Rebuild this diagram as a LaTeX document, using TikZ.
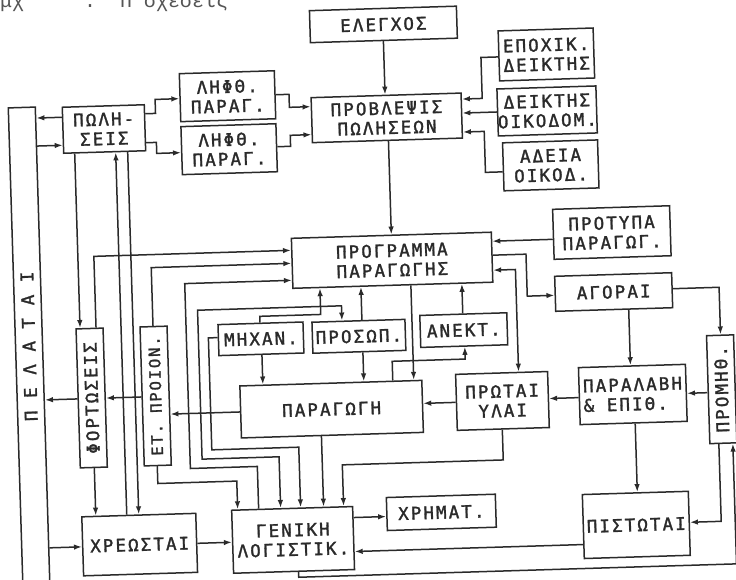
\documentclass[tikz,border=0pt]{standalone}
\usepackage{fontspec}
\usepackage{graphicx}
\usetikzlibrary{arrows.meta}
\newfontfamily\dmono[LetterSpace=12,FakeBold=1.6]{DejaVu Sans Mono}
\newfontfamily\tmono{Liberation Mono}
\definecolor{ink}{RGB}{42,42,42}
\tikzset{
  box/.style={draw=ink, line width=1.5pt, fill=white, inner sep=0pt, align=center,
    text=ink, font=\dmono\fontsize{17.5}{19.5}\selectfont},
  arr/.style={draw=ink, line width=1.5pt, -{Latex[length=8pt,width=5.5pt]}},
  arrboth/.style={draw=ink, line width=1.5pt, {Latex[length=8pt,width=5.5pt]}-{Latex[length=8pt,width=5.5pt]}},
}
\begin{document}
\begin{tikzpicture}[x=1pt,y=-1pt]
\useasboundingbox (0,0) rectangle (736,579);
\fill[white] (0,0) rectangle (736,579);
\node[anchor=base west, text=ink!80, font=\tmono\fontsize{20}{20}\selectfont, inner sep=0pt] (hdr) at (0,7) {μχ\ \ \ \ \ .\ \ Π σχέσεις};
\begin{scope}[rotate around={1.75:(368,290)}, transform shape]
% boxes
\node[box, minimum width=147pt, minimum height=32pt] (elegchos) at (391.5,25) {ΕΛΕΓΧΟΣ};
\node[box, minimum width=95pt, minimum height=48pt] (lif1) at (233.5,92) {ΛΗΦΘ.\\ΠΑΡΑΓ.};
\node[box, minimum width=95pt, minimum height=48pt] (lif2) at (233.5,145) {ΛΗΦΘ.\\ΠΑΡΑΓ.};
\node[box, minimum width=150pt, minimum height=45pt] (provl) at (392,118.5) {ΠΡΟΒΛΕΨΙΣ\\ΠΩΛΗΣΕΩΝ};
\node[box, minimum width=95pt, minimum height=50pt] (epoch) at (553.5,60) {ΕΠΟΧΙΚ.\\ΔΕΙΚΤΗΣ};
\node[box, minimum width=95pt, minimum height=47pt] (deikt) at (552.5,116.5) {ΔΕΙΚΤΗΣ\\ΟΙΚΟΔΟΜ.};
\node[box, minimum width=95pt, minimum height=48pt] (adeia) at (554.5,171) {ΑΔΕΙΑ\\ΟΙΚΟΔ.};
\node[box, minimum width=27pt, minimum height=478pt] (pelat) at (27.5,336) {\rotatebox{90}{Π Ε Λ Α Τ Α Ι}};
\node[box, minimum width=82pt, minimum height=46pt] (polis) at (109,121) {ΠΩΛΗ-\\ΣΕΙΣ};
\node[box, minimum width=200pt, minimum height=50pt] (progr) at (393,261) {ΠΡΟΓΡΑΜΜΑ\\ΠΑΡΑΓΩΓΗΣ};
\node[box, minimum width=117pt, minimum height=50pt] (protypa) at (613.5,240) {ΠΡΟΤΥΠΑ\\ΠΑΡΑΓΩΓ.};
\node[box, minimum width=117pt, minimum height=35pt] (agorai) at (613.5,299.5) {ΑΓΟΡΑΙ};
\node[box, minimum width=85pt, minimum height=31pt] (michan) at (259.5,335.5) {ΜΗΧΑΝ.};
\node[box, minimum width=93pt, minimum height=31pt] (prosop) at (357.5,336) {ΠΡΟΣΩΠ.};
\node[box, minimum width=87pt, minimum height=32pt] (anekt) at (462.5,333) {ΑΝΕΚΤ.};
\node[box, minimum width=182pt, minimum height=52pt] (parag) at (328,408) {ΠΑΡΑΓΩΓΗ};
\node[box, minimum width=92pt, minimum height=56pt] (protai) at (499,405) {ΠΡΩΤΑΙ\\ΥΛΑΙ};
\node[box, minimum width=107pt, minimum height=57pt, align=left] (paral) at (629.5,402.5) {ΠΑΡΑΛΑΒΗ\\\& ΕΠΙΘ.};
\node[box, minimum width=27pt, minimum height=108pt] (promi) at (718.5,400) {\rotatebox{90}{ΠΡΟΜΗΘ.}};
\node[box, minimum width=106pt, minimum height=64pt] (pist) at (629,533) {ΠΙΣΤΩΤΑΙ};
\node[box, minimum width=109pt, minimum height=33pt] (chrim) at (434.5,514.5) {ΧΡΗΜΑΤ.};
\node[box, minimum width=121pt, minimum height=63pt] (genik) at (285.5,537.5) {ΓΕΝΙΚΗ\\ΛΟΓΙΣΤΙΚ.};
\node[box, minimum width=114pt, minimum height=59pt] (chreo) at (132,537.5) {ΧΡΕΩΣΤΑΙ};
\node[box, minimum width=27pt, minimum height=139pt] (fort) at (88.5,389.5) {\rotatebox{90}{ΦΟΡΤΩΣΕΙΣ}};
\node[box, minimum width=27pt, minimum height=139pt, font=\dmono\fontsize{15.5}{16}\selectfont] (etpr) at (152.5,389.5) {\rotatebox{90}{ΕΤ. ΠΡΟΙΟΝ.}};
% connectors
\draw[arr] (elegchos.south -| 391,0) -- (provl.north -| 391,0);
\draw[arr] (provl.south -| 393,0) -- (progr.north -| 393,0);
\draw[arr] (epoch.west |- 0,61) -| (488,102) -- (provl.east |- 0,102);
\draw[arr] (deikt.west |- 0,116) -- (provl.east |- 0,116);
\draw[arr] (adeia.west |- 0,176) -| (489,135) -- (provl.east |- 0,135);
\draw[arr] (lif1.east |- 0,92) -| (295,105) -- (provl.west |- 0,105);
\draw[arr] (lif2.east |- 0,144) -| (295,133) -- (provl.west |- 0,133);
\draw[arr] (polis.east |- 0,107) -| (161,93) -- (lif1.west |- 0,93);
\draw[arr] (polis.east |- 0,136) -| (161,147) -- (lif2.west |- 0,147);
\draw[arr] (polis.west |- 0,108) -- (pelat.east |- 0,108);
\draw[arr] (pelat.east |- 0,136) -- (polis.west |- 0,136);
\draw[arr] (polis.south -| 79,0) -- (fort.north -| 79,0);
\draw[arr] (fort.north -| 95,0) |- (progr.west |- 0,248);
\draw[arr] (etpr.north -| 152,0) |- (progr.west |- 0,261);
\draw[arr] (genik.north -| 252,0) -- (252,463) -| (185,278) -- (progr.west |- 0,278);
\draw[arr] (chreo.north -| 120,0) -- (polis.south -| 120,0);
\draw[arr] (polis.south -| 132,0) -- (chreo.north -| 132,0);
\draw[arr] (fort.south -| 89,0) -- (chreo.north -| 89,0);
\draw[arr] (fort.west |- 0,390) -- (pelat.east |- 0,390);
\draw[arr] (etpr.west |- 0,390) -- (fort.east |- 0,390);
\draw[arr] (parag.west |- 0,408) -- (etpr.east |- 0,408);
\draw[arr] (etpr.south -| 152,0) -- (152,477) -| (genik.north -| 231,0);
\draw[arr] (michan.west |- 0,333) -- (207,333) -- (207,445) -| (genik.north -| 294,0);
\draw[arrboth] (prosop.north -| 341,0) -- (341,305) -| (197,454) -| (genik.north -| 274,0);
\draw[arr] (michan.north -| 259,0) -- (259,313) -| (progr.south -| 320,0);
\draw[arr] (michan.south -| 260,0) -- (parag.north -| 260,0);
\draw[arr] (prosop.north -| 361,0) -- (progr.south -| 361,0);
\draw[arr] (prosop.south -| 361,0) -- (parag.north -| 361,0);
\draw[arr] (progr.south -| 411,0) -- (parag.north -| 411,0);
\draw[arr] (anekt.north -| 462,0) -- (progr.south -| 462,0);
\draw[arr] (parag.north -| 390,0) -- (390,362) -| (anekt.south -| 463,0);
\draw[arrboth] (progr.east |- 0,274) -| (protai.north -| 516,0);
\draw[arr] (progr.east |- 0,259) -| (527,301) -- (agorai.west |- 0,301);
\draw[arr] (protypa.west |- 0,245) -- (progr.east |- 0,245);
\draw[arr] (agorai.south -| 628,0) -- (paral.north -| 628,0);
\draw[arr] (agorai.east |- 0,298) -| (promi.north -| 719,0);
\draw[arr] (promi.west |- 0,403) -- (paral.east |- 0,403);
\draw[arr] (paral.west |- 0,404) -- (protai.east |- 0,404);
\draw[arr] (protai.west |- 0,405) -- (parag.east |- 0,405);
\draw[arr] (paral.south -| 631,0) -- (pist.north -| 631,0);
\draw[arr] (promi.south -| 714,0) |- (pist.east |- 0,532);
\draw[arr] (genik.south -| 290,0) |- (728,575) -- (promi.south -| 728,0);
\draw[arr] (pist.west |- 0,551) -- (genik.east |- 0,551);
\draw[arr] (genik.east |- 0,517) -- (chrim.west |- 0,517);
\draw[arr] (chreo.east |- 0,538) -- (genik.west |- 0,538);
\draw[arr] (pelat.east |- 0,538) -- (chreo.west |- 0,538);
\draw[arr] (parag.south -| 317,0) -- (genik.north -| 317,0);
\draw[arr] (protai.south -| 498,0) -- (498,464) -| (genik.north -| 337,0);
\end{scope}
\end{tikzpicture}
\end{document}
